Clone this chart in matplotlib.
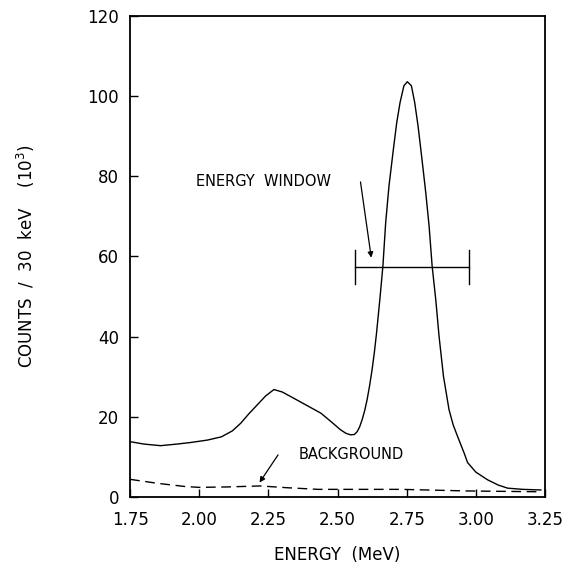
import numpy as np
import matplotlib.pyplot as plt

# spectrum: energy in MeV, counts per 30 keV in units of 10^3
energy = [1.75, 1.80, 1.86, 1.92, 1.97, 2.03, 2.08, 2.12, 2.15, 2.18, 2.21,
          2.24, 2.27, 2.30, 2.34, 2.39, 2.44, 2.48, 2.51, 2.53, 2.547, 2.561,
          2.571, 2.58, 2.589, 2.598, 2.607, 2.616, 2.625, 2.633, 2.641, 2.653,
          2.664, 2.674, 2.686, 2.702, 2.714, 2.726, 2.740, 2.7525, 2.767,
          2.779, 2.791, 2.804, 2.819, 2.831, 2.842, 2.855, 2.867, 2.883,
          2.903, 2.918, 2.934, 2.958, 2.97, 3.00, 3.042, 3.08, 3.115,
          3.17, 3.235]
counts = [13.8, 13.2, 12.8, 13.2, 13.6, 14.2, 15.0, 16.5, 18.4, 20.8, 23.0,
          25.2, 26.8, 26.2, 24.7, 22.8, 20.9, 18.6, 16.8, 15.9, 15.5, 15.6,
          16.3, 17.5, 19.3, 21.5, 24.3, 27.8, 31.8, 36.0, 40.9, 49.3,
          57.6, 68.4, 77.6, 86.8, 93.4, 98.4, 102.6, 103.6, 102.6,
          98.4, 92.6, 85.0, 75.9, 67.6, 57.6, 49.3, 40.1, 30.1,
          21.8, 18.0, 15.1, 10.9, 8.6, 6.2, 4.3, 3.0, 2.2,
          1.9, 1.75]

# background (dashed)
bg_energy = [1.75, 1.85, 1.95, 2.00, 2.10, 2.22, 2.32, 2.43, 2.55, 2.73,
             2.85, 2.97, 3.10, 3.235]
bg_counts = [4.4, 3.4, 2.6, 2.4, 2.5, 2.75, 2.3, 1.9, 1.9, 1.9,
             1.7, 1.5, 1.4, 1.3]

# energy window
window = [2.563, 2.976]
window_level = 57.4

xticks = [1.75, 2.00, 2.25, 2.50, 2.75, 3.00, 3.25]
yticks = [0, 20, 40, 60, 80, 100, 120]


def main():
    fig = plt.figure(figsize=(5.68, 5.67), dpi=100)
    ax = fig.add_axes([0.229, 0.1235, 0.7305, 0.8483])

    ax.plot(energy, counts, color='black', lw=1.0)
    ax.plot(bg_energy, bg_counts, color='black', lw=1.0, dashes=(7, 4))

    # window bar with end caps
    ax.plot(window, [window_level, window_level], color='black', lw=1.0)
    for w in window:
        ax.plot([w, w], [window_level - 4.3, window_level + 4.3], color='black', lw=1.0)

    # labels and arrows
    ax.text(1.99, 78.7, 'ENERGY  WINDOW', fontsize=10.5, va='center', ha='left')
    ax.annotate('', xy=(2.622, 59.7), xytext=(2.583, 78.6),
                arrowprops=dict(arrowstyle='-|>', color='black', lw=0.9,
                                shrinkA=0, shrinkB=0, mutation_scale=8))
    ax.annotate('', xy=(2.218, 3.6), xytext=(2.285, 10.5),
                arrowprops=dict(arrowstyle='-|>', color='black', lw=0.9,
                                shrinkA=0, shrinkB=0, mutation_scale=8))
    ax.text(2.359, 10.5, 'BACKGROUND', fontsize=10.5, va='center', ha='left')

    ax.set_xlim(1.75, 3.25)
    ax.set_ylim(0, 120)
    ax.set_xticks(xticks)
    ax.set_xticklabels(['%.2f' % t for t in xticks])
    ax.set_yticks(yticks)
    ax.tick_params(direction='in', length=6, width=1.0, labelsize=12, pad=8)
    ax.tick_params(axis='x', pad=10)
    for s in ax.spines.values():
        s.set_linewidth(1.3)

    ax.set_xlabel('ENERGY  (MeV)', fontsize=12, labelpad=12)
    ax.set_ylabel('COUNTS  /  30  keV    (10$^3$)', fontsize=12, labelpad=36)

    fig.savefig('out.png', dpi=100)


if __name__ == '__main__':
    main()
